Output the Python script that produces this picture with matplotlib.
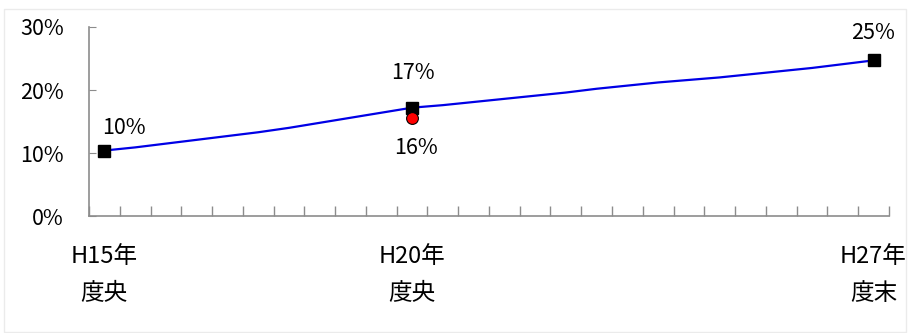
import matplotlib
matplotlib.use('Agg')
import matplotlib.pyplot as plt
from matplotlib.ticker import FixedLocator, PercentFormatter

plt.rcParams['font.family'] = ['Noto Sans CJK JP', 'DejaVu Sans']

# 半期ごとの推移 (H15年度央 〜 H27年度末, 26点)
trend = [10.4, 10.9, 11.5, 12.1, 12.7, 13.3, 14.0, 14.8, 15.6, 16.4, 17.2,
         17.6, 18.1, 18.6, 19.1, 19.6, 20.2, 20.7, 21.2, 21.6, 22.0, 22.5,
         23.0, 23.5, 24.1, 24.7]
key_idx = [0, 10, 25]
key_labels = ['10%', '17%', '25%']
actual_idx = 10
actual_value = 15.6
actual_label = '16%'
cat_labels = {0: 'H15年\n度央', 10: 'H20年\n度央', 25: 'H27年\n度末'}
y_ticks = [0, 10, 20, 30]

fig = plt.figure(figsize=(9.1, 3.33), dpi=100)
ax = fig.add_axes([0.0978, 0.351, 0.879, 0.568])

x = list(range(len(trend)))
ax.plot(x, trend, color='#0000E6', linewidth=1.6, zorder=2)
ax.plot(key_idx, [trend[i] for i in key_idx], linestyle='none', marker='s',
        markersize=8, color='black', zorder=3)
ax.plot([actual_idx], [actual_value], linestyle='none', marker='o',
        markersize=8.5, markerfacecolor='#FF0000', markeredgecolor='black',
        markeredgewidth=0.8, zorder=4)

# データラベル
fs = 15.5
ax.annotate(key_labels[0], (key_idx[0], trend[key_idx[0]]), xytext=(14, 16),
            textcoords='offset points', ha='center', va='center', fontsize=fs)
ax.annotate(key_labels[1], (key_idx[1], trend[key_idx[1]]), xytext=(1, 25),
            textcoords='offset points', ha='center', va='center', fontsize=fs)
ax.annotate(actual_label, (actual_idx, actual_value), xytext=(3, -22),
            textcoords='offset points', ha='center', va='center', fontsize=fs)
ax.annotate(key_labels[2], (key_idx[2], trend[key_idx[2]]), xytext=(0, 20),
            textcoords='offset points', ha='center', va='center', fontsize=fs)

ax.set_xlim(-0.5, len(trend) - 0.5)
ax.set_ylim(0, 30)

# 軸の設定
axis_color = '#8C8C8C'
for side in ['top', 'right']:
    ax.spines[side].set_visible(False)
for side in ['left', 'bottom']:
    ax.spines[side].set_color(axis_color)
    ax.spines[side].set_linewidth(1.2)

ax.yaxis.set_major_locator(FixedLocator(y_ticks))
ax.yaxis.set_major_formatter(PercentFormatter(decimals=0))
ax.tick_params(axis='y', direction='in', length=5, color=axis_color,
               labelsize=fs, pad=18)

ax.set_xticks(list(cat_labels.keys()))
ax.set_xticklabels(list(cat_labels.values()), linespacing=1.75)
ax.set_xticks([i - 0.5 for i in range(len(trend) + 1)], minor=True)
ax.tick_params(axis='x', which='major', length=0, labelsize=17, pad=21)
ax.tick_params(axis='x', which='minor', direction='in', length=7,
               color=axis_color, width=1)

fig.patches.append(plt.Rectangle((0.004, 0.004), 0.992, 0.968,
                                 transform=fig.transFigure, fill=False,
                                 edgecolor='#EBEBEB', linewidth=1))

plt.savefig('out.png', dpi=100, facecolor='white')
plt.close()
